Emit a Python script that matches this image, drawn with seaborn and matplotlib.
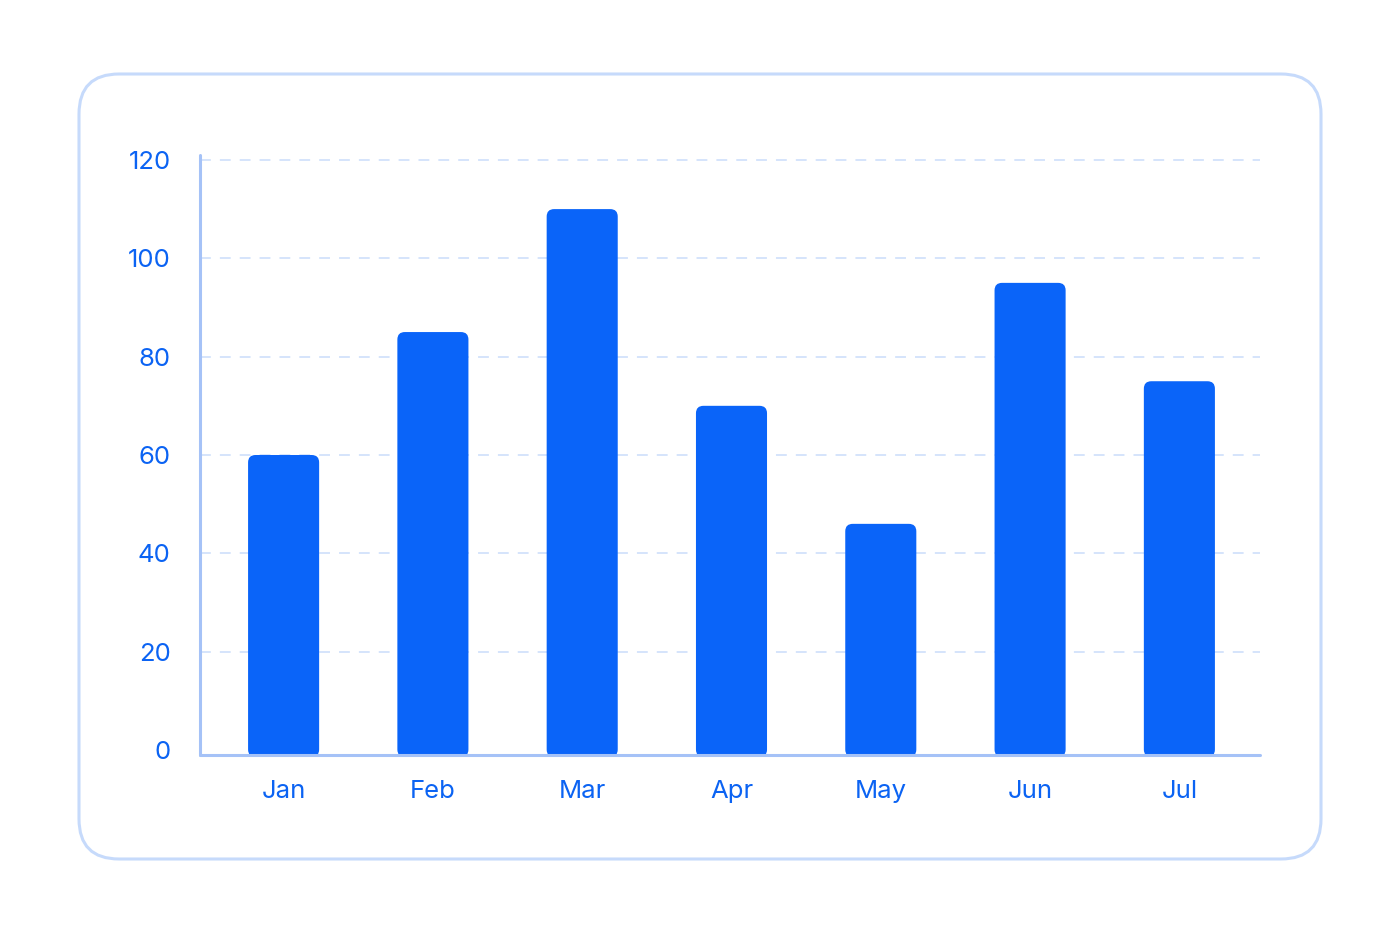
import matplotlib
matplotlib.use("Agg")
import matplotlib.pyplot as plt
from matplotlib.patches import FancyBboxPatch
import seaborn as sns
import pandas as pd

months = ["Jan", "Feb", "Mar", "Apr", "May", "Jun", "Jul"]
values = [60, 85, 110, 70, 46, 95, 75]
y_ticks = [0, 20, 40, 60, 80, 100, 120]

bar_color = "#0A64F9"
text_color = "#0B63F3"
axis_color = "#A5C2F7"
grid_color = "#D2E2FB"
card_color = "#C6DAFB"

sns.set_theme(style="white")
plt.rcParams["font.family"] = ["Inter", "DejaVu Sans"]

df = pd.DataFrame({"month": months, "value": values})

fig = plt.figure(figsize=(14, 9.33), dpi=100)
fig.patch.set_facecolor("white")

# card behind the chart
card = FancyBboxPatch((79 / 1400, 1 - 859 / 933), 1242 / 1400, 785 / 933,
                      boxstyle="round,pad=0,rounding_size=0.0286",
                      mutation_aspect=1400 / 933,
                      transform=fig.transFigure, facecolor="#FFFFFF",
                      edgecolor=card_color, linewidth=2.2, zorder=-5)
fig.patches.append(card)

ax = fig.add_axes([200 / 1400, 1 - 755 / 933, 1060 / 1400, 600 / 933])
ax.set_facecolor("none")
ax.set_zorder(2)

sns.barplot(data=df, x="month", y="value", color=bar_color, width=0.476,
            saturation=1, ax=ax, zorder=3)

# swap plain bars for ones with rounded corners
for p in list(ax.patches):
    x0, w, h = p.get_x(), p.get_width(), p.get_height()
    p.remove()
    rb = FancyBboxPatch((x0, -1.4), w, h + 1.4,
                        boxstyle="round,pad=0,rounding_size=0.05",
                        mutation_aspect=30.3, facecolor=bar_color,
                        edgecolor="none", zorder=3, clip_on=False)
    ax.add_patch(rb)

ax.set_xlim(-0.56, 6.54)
ax.set_ylim(-1, 121)
ax.set_yticks(y_ticks)
ax.set_yticklabels([str(t) for t in y_ticks])
for t in y_ticks[1:]:
    ax.axhline(t, color=grid_color, lw=1.3, ls=(0, (6, 5)), zorder=1)

ax.set_xlabel("")
ax.set_ylabel("")
ax.tick_params(axis="y", length=0, pad=21, labelsize=18.5, labelcolor=text_color)
ax.tick_params(axis="x", length=0, pad=18, labelsize=18.5, labelcolor=text_color)

for side in ["top", "right"]:
    ax.spines[side].set_visible(False)
for side in ["left", "bottom"]:
    ax.spines[side].set_color(axis_color)
    ax.spines[side].set_linewidth(2.2)
    ax.spines[side].set_capstyle("round")
    ax.spines[side].set_zorder(4)

fig.savefig("out.png", dpi=100)
